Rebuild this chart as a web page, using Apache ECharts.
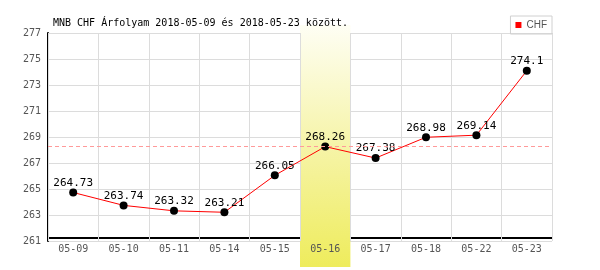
<!DOCTYPE html>
<html><head><meta charset="utf-8">
<script src="https://cdn.jsdelivr.net/npm/echarts@6/dist/echarts.min.js"></script>
<style>html,body{margin:0;padding:0;background:#fff}#c{width:600px;height:270px}</style>
</head><body><div id="c"></div>
<script>
const titleText = 'MNB CHF Árfolyam 2018-05-09 és 2018-05-23 között.';
const seriesName = 'CHF';
const categories = ['05-09','05-10','05-11','05-14','05-15','05-16','05-17','05-18','05-22','05-23'];
const values = [264.73, 263.74, 263.32, 263.21, 266.05, 268.26, 267.38, 268.98, 269.14, 274.1];
const highlightCategory = '05-16';
const yMin = 261, yMax = 277, yStep = 2;

const hiIdx = categories.indexOf(highlightCategory);
const bandData = categories.map((c, i) => i === hiIdx ? 1 : null);
const mono = 'DejaVu Sans Mono, monospace';

const chart = echarts.init(document.getElementById('c'), null, {renderer: 'canvas'});
chart.setOption({
  animation: false,
  backgroundColor: '#fff',
  title: {
    text: titleText, left: 48, top: 13,
    textStyle: {fontFamily: mono, fontSize: 10, fontWeight: 'normal', color: '#000'}
  },
  legend: {
    data: [{name: seriesName, itemStyle: {color: '#ff0000'}}],
    right: 48, top: 16,
    icon: 'rect', itemWidth: 6, itemHeight: 6, itemGap: 4,
    padding: [4, 5, 4, 5],
    borderColor: '#d0d0d0', borderWidth: 1,
    textStyle: {fontFamily: 'Liberation Sans Narrow, Liberation Sans, sans-serif', fontSize: 10, color: '#555'}
  },
  grid: [
    {left: 48, right: 48, top: 33, bottom: 29},
    {left: 48, right: 48, top: 25, bottom: 3}
  ],
  xAxis: [
    {gridIndex: 0, type: 'category', position: 'bottom', data: categories, boundaryGap: true, offset: -3, z: 0,
      axisLine: {show: true, lineStyle: {color: '#000', width: 2}},
      axisTick: {show: false}, axisLabel: {show: false}, splitLine: {show: false}},
    {gridIndex: 0, type: 'category', position: 'bottom', offset: 0, data: categories, boundaryGap: true, z: 2,
      axisLine: {show: false}, axisTick: {show: false},
      axisLabel: {show: true, margin: 3, color: '#555', fontFamily: mono, fontSize: 10, interval: 0},
      splitLine: {show: true, interval: 0, lineStyle: {color: '#dcdcdc', width: 1}}},
    {gridIndex: 1, type: 'category', data: categories, boundaryGap: true, show: false}
  ],
  yAxis: [
    {gridIndex: 0, type: 'value', min: yMin, max: yMax, interval: yStep, z: 0,
      axisLine: {show: true, lineStyle: {color: '#000', width: 2}},
      axisTick: {show: false},
      axisLabel: {margin: 7, color: '#555', fontFamily: mono, fontSize: 10},
      splitLine: {show: true, lineStyle: {color: '#dcdcdc', width: 1}}},
    {gridIndex: 1, type: 'value', min: 0, max: 1, show: false}
  ],
  series: [
    {
      type: 'bar', xAxisIndex: 2, yAxisIndex: 1, data: bandData, barWidth: '100%', z: 1,
      silent: true, legendHoverLink: false,
      itemStyle: {color: new echarts.graphic.LinearGradient(0, 0, 0, 1, [
        {offset: 0, color: '#fefef4'},
        {offset: 0.5, color: '#f6f4a8'},
        {offset: 1, color: '#eeec5c'}
      ])}
    },
    {
      name: seriesName, type: 'line', xAxisIndex: 0, yAxisIndex: 0, data: values, z: 3,
      symbol: 'circle', symbolSize: 8,
      itemStyle: {color: '#000'},
      lineStyle: {color: '#ff0000', width: 1},
      label: {show: true, position: 'top', distance: 0, color: '#000', fontFamily: mono, fontSize: 11},
      markLine: {
        silent: true, symbol: 'none', label: {show: false},
        lineStyle: {color: '#ff9a9a', type: [4, 3], width: 1},
        data: [{yAxis: values[hiIdx]}]
      }
    }
  ]
});
</script></body></html>
